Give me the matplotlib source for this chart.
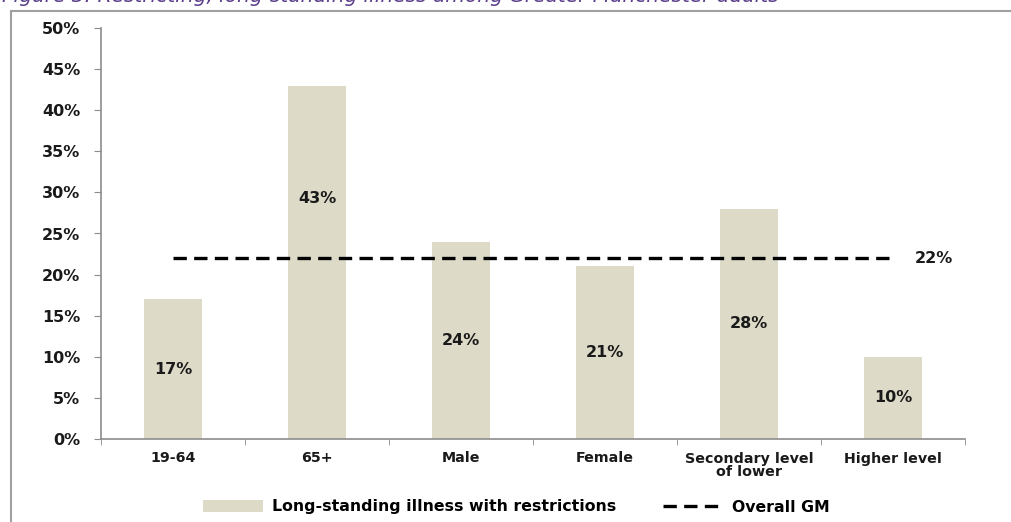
import matplotlib.pyplot as plt
from matplotlib.patches import Rectangle, Patch
from matplotlib.lines import Line2D

categories = ["19-64", "65+", "Male", "Female", "Secondary level\nof lower", "Higher level"]
values = [17, 43, 24, 21, 28, 10]
label_pos = [8.5, 29.2, 12, 10.5, 14, 5]
overall_gm = 22

bar_color = "#DDDAC7"
axis_color = "#8C8C8C"
text_color = "#1A1A1A"

plt.rcParams["font.family"] = "DejaVu Sans"

fig = plt.figure(figsize=(10.11, 5.22), dpi=100)
ax = fig.add_axes([101 / 1011, 1 - 439 / 522, 864 / 1011, 411 / 522])

x = list(range(len(categories)))
ax.bar(x, values, width=0.4, color=bar_color, zorder=2)
for xi, v, p in zip(x, values, label_pos):
    ax.text(xi, p, f"{v}%", ha="center", va="center", fontsize=11.5,
            fontweight="bold", color=text_color, zorder=4)

ax.plot([0, len(categories) - 1], [overall_gm, overall_gm], color="black",
        linestyle=(0, (4, 2.2)), linewidth=2.4, zorder=3)
ax.text(5.15, overall_gm, f"{overall_gm}%", ha="left", va="center",
        fontsize=11.5, fontweight="bold", color=text_color)

ax.set_xlim(-0.5, 5.5)
ax.set_ylim(0, 50)
ax.set_yticks(range(0, 51, 5))
ax.set_yticklabels([f"{t}%" for t in range(0, 51, 5)], fontsize=11.5,
                   fontweight="bold", color=text_color)
ax.set_xticks(x)
ax.set_xticklabels(categories, fontsize=10.3, fontweight="bold", color=text_color,
                   linespacing=1.0)
ax.set_xticks([i - 0.5 for i in range(len(categories) + 1)], minor=True)
ax.tick_params(axis="x", which="major", length=0, pad=9)
ax.tick_params(axis="x", which="minor", length=4, color=axis_color, direction="out")
ax.tick_params(axis="y", length=5, color=axis_color, pad=10)

for s in ["top", "right"]:
    ax.spines[s].set_visible(False)
for s in ["left", "bottom"]:
    ax.spines[s].set_color(axis_color)
    ax.spines[s].set_linewidth(1.2)

# outer frame of the original figure box
fig.patches.append(Rectangle((11 / 1011, -0.1), 1.2, 1 - 11 / 522 + 0.1,
                             transform=fig.transFigure, fill=False,
                             edgecolor="#A0A0A0", linewidth=1.5))

fig.text(2 / 1011, 1 - 2 / 522, "Figure 3: Restricting, long-standing illness among Greater Manchester adults",
         fontsize=14.5, style="italic", color="#5B3F8C", va="baseline", ha="left")

handles = [Patch(facecolor=bar_color, edgecolor="none"),
           Line2D([0], [0], color="black", linestyle=(0, (4, 2.2)), linewidth=2.4)]
fig.legend(handles, ["Long-standing illness with restrictions", "Overall GM"],
           loc="center", bbox_to_anchor=(0.511, 1 - 507 / 522), ncol=2,
           frameon=False, handlelength=3.8, handleheight=0.8, columnspacing=3.0,
           handletextpad=0.6, prop={"size": 11.3, "weight": "bold"})

fig.savefig("out.png", dpi=100)
